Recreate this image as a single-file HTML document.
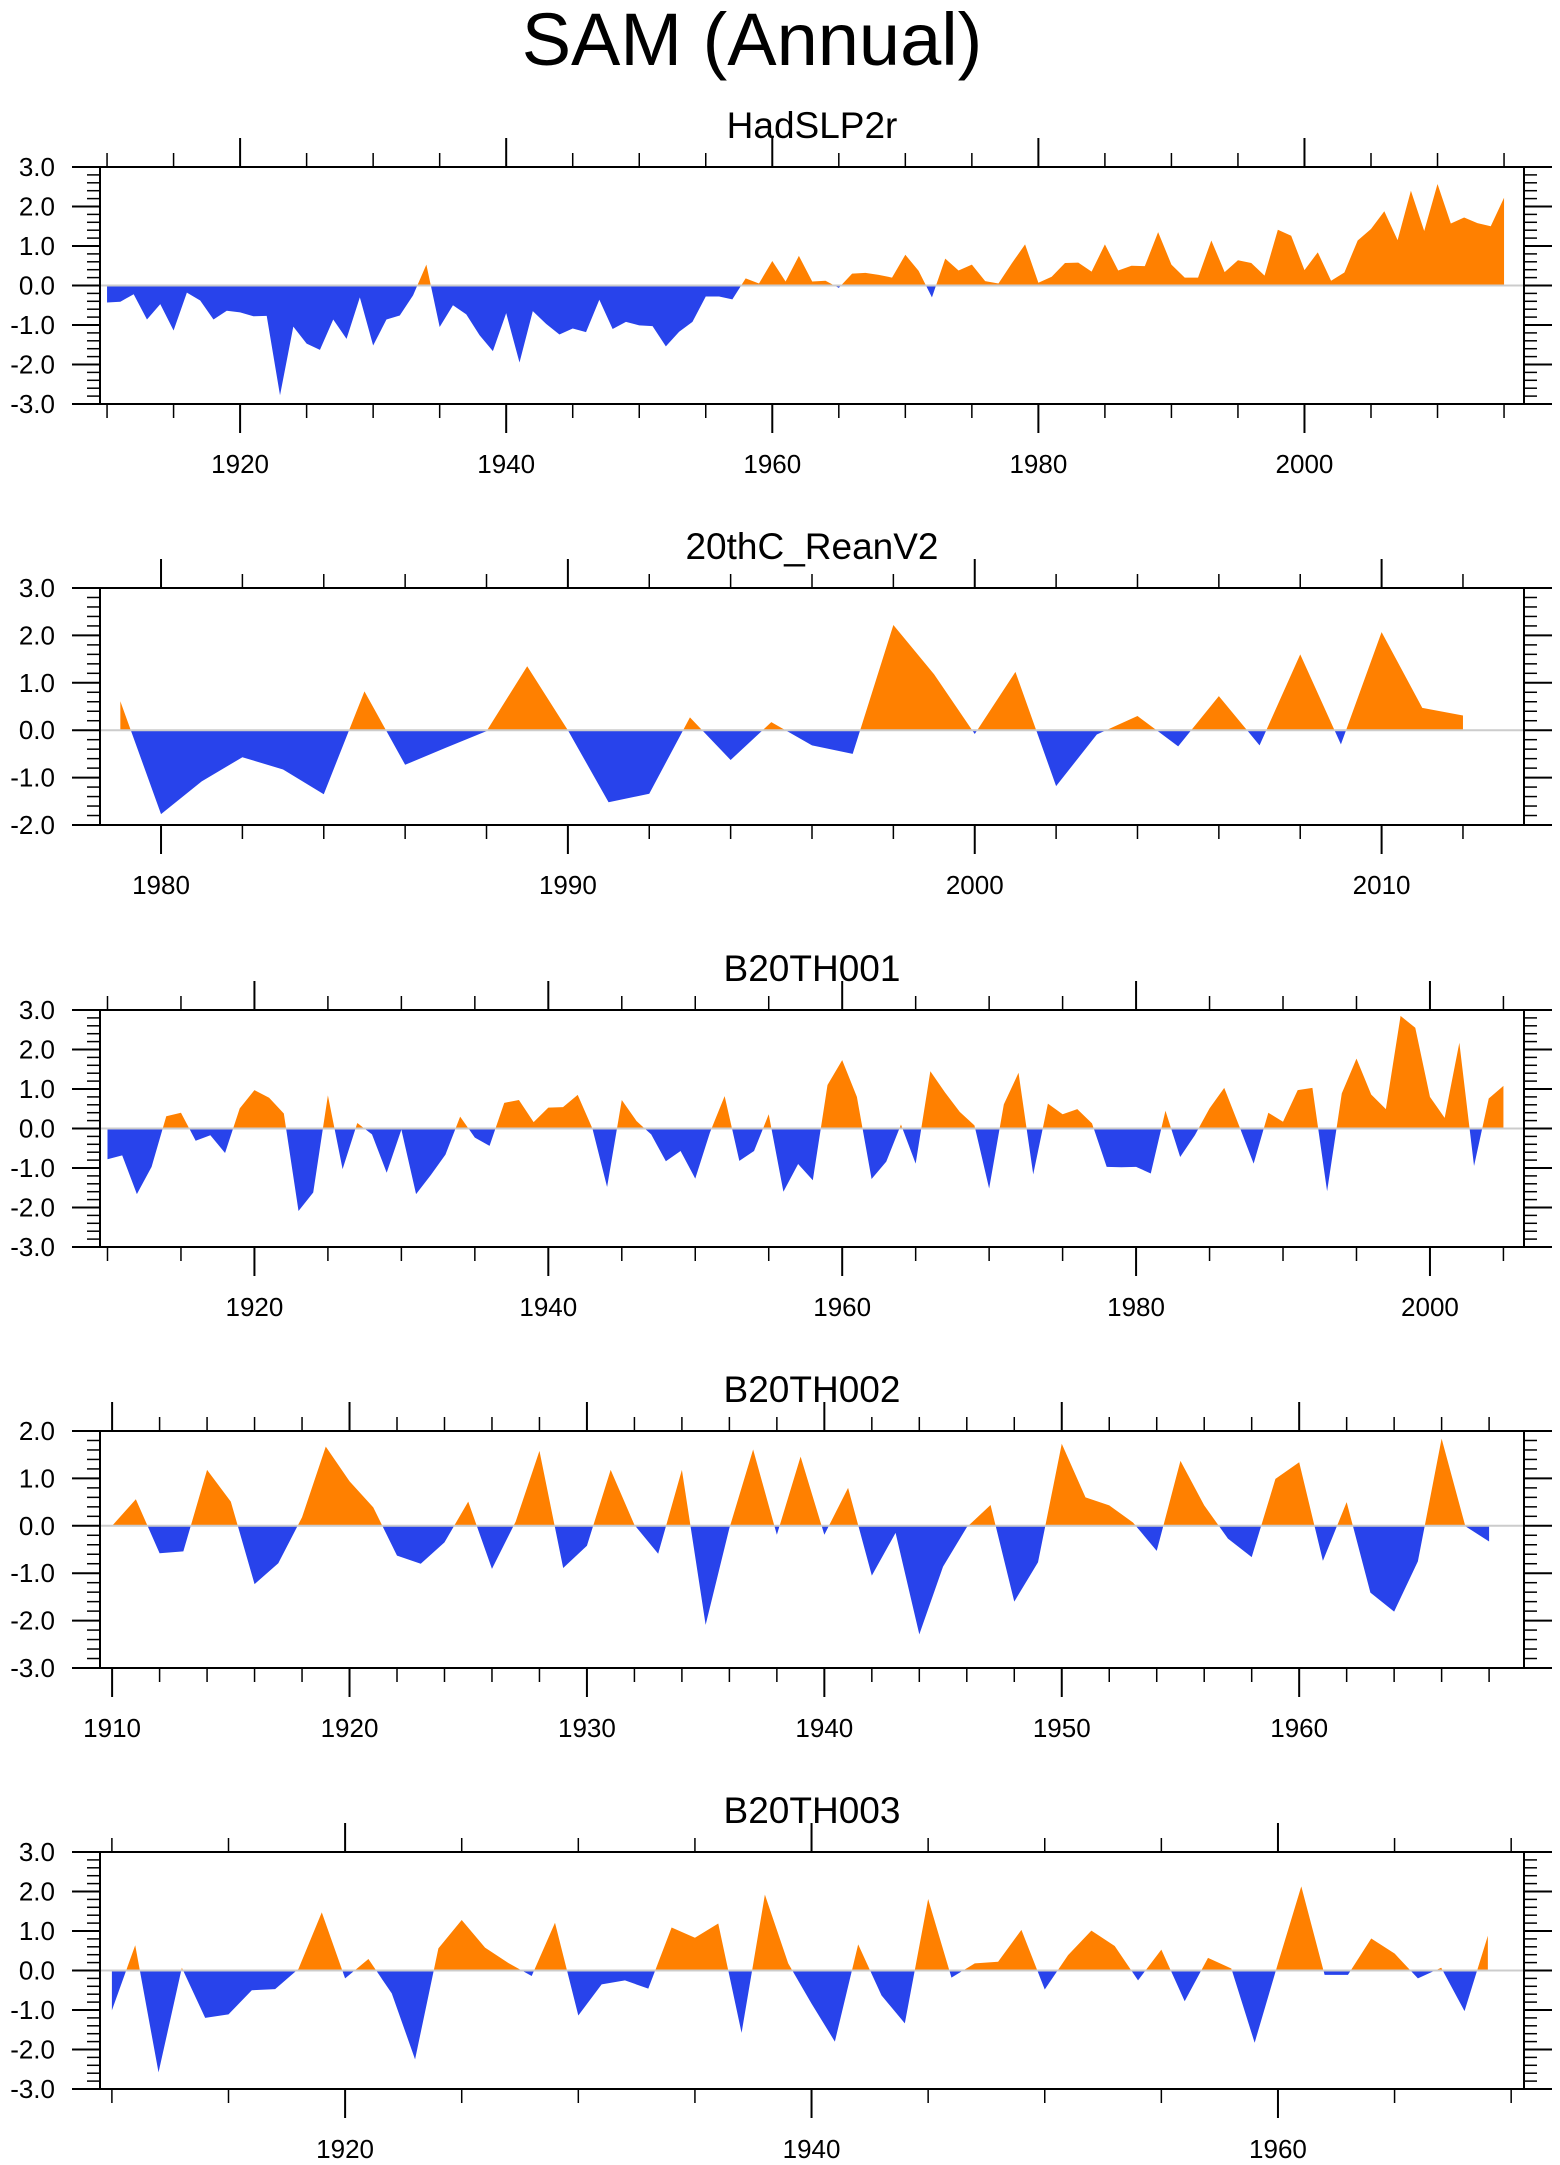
<!DOCTYPE html>
<html><head><meta charset="utf-8"><style>
html,body{margin:0;padding:0;background:#fff;}
svg{display:block;font-family:"Liberation Sans",Arial,sans-serif;}
</style></head><body>
<svg id="chart" width="1560" height="2165" viewBox="0 0 1560 2165" xmlns="http://www.w3.org/2000/svg">
<text x="752" y="65" font-size="74" text-anchor="middle" fill="#000">SAM (Annual)</text>
</svg>
<script>
// ---- data ----
const hadStart = 1910;
const hadValues = [-0.43,-0.41,-0.22,-0.86,-0.47,-1.14,-0.18,-0.38,-0.86,-0.64,
-0.68,-0.78,-0.77,-2.78,-1.04,-1.47,-1.63,-0.86,-1.35,-0.30,
-1.52,-0.86,-0.76,-0.25,0.53,-1.05,-0.50,-0.73,-1.26,-1.66,
-0.70,-1.95,-0.65,-0.97,-1.24,-1.09,-1.18,-0.36,-1.10,-0.92,
-1.01,-1.03,-1.54,-1.17,-0.92,-0.28,-0.28,-0.35,0.18,0.05,
0.62,0.10,0.75,0.10,0.12,-0.06,0.30,0.32,0.27,0.20,
0.78,0.37,-0.30,0.68,0.38,0.53,0.11,0.05,0.56,1.04,
0.07,0.22,0.57,0.58,0.35,1.04,0.38,0.50,0.49,1.35,
0.53,0.20,0.20,1.14,0.34,0.64,0.57,0.25,1.41,1.26,
0.39,0.84,0.12,0.33,1.14,1.43,1.88,1.15,2.40,1.38,
2.57,1.57,1.72,1.58,1.50,2.22];
const reanStart = 1979;
const reanValues = [0.61,-1.77,-1.08,-0.57,-0.83,-1.35,0.82,-0.73,-0.37,-0.02,
1.35,0.0,-1.52,-1.34,0.27,-0.63,0.17,-0.32,-0.50,2.22,
1.18,-0.08,1.23,-1.18,-0.09,0.30,-0.34,0.72,-0.32,1.60,
-0.30,2.07,0.47,0.31];
const b001Start = 1910;
const b001Values = [-0.78,-0.68,-1.66,-0.97,0.31,0.40,-0.31,-0.17,-0.62,0.51,
0.97,0.78,0.38,-2.09,-1.62,0.84,-1.03,0.14,-0.15,-1.12,
-0.03,-1.66,-1.18,-0.66,0.30,-0.23,-0.44,0.65,0.72,0.16,
0.53,0.54,0.85,0.0,-1.48,0.72,0.19,-0.15,-0.83,-0.57,
-1.27,-0.10,0.82,-0.82,-0.57,0.36,-1.60,-0.90,-1.31,1.10,
1.73,0.80,-1.28,-0.84,0.10,-0.89,1.45,0.91,0.42,0.08,
-1.52,0.61,1.41,-1.16,0.63,0.36,0.49,0.13,-0.97,-0.98,
-0.97,-1.14,0.45,-0.72,-0.17,0.51,1.03,0.08,-0.89,0.40,
0.17,0.97,1.03,-1.59,0.89,1.77,0.86,0.49,2.85,2.55,
0.80,0.27,2.17,-0.95,0.76,1.08];
const b002Start = 1910;
const b002Values = [0.0,0.56,-0.58,-0.54,1.18,0.51,-1.23,-0.79,0.18,1.67,
0.94,0.39,-0.63,-0.80,-0.35,0.51,-0.91,0.09,1.58,-0.89,
-0.42,1.18,0.02,-0.59,1.18,-2.09,-0.05,1.61,-0.19,1.46,
-0.19,0.80,-1.05,-0.15,-2.29,-0.86,-0.03,0.44,-1.60,-0.77,
1.73,0.60,0.43,0.07,-0.53,1.37,0.43,-0.27,-0.66,0.99,
1.34,-0.74,0.50,-1.41,-1.81,-0.75,1.84,-0.01,-0.33];
const b003Start = 1910;
const b003Values = [-1.01,0.64,-2.58,0.07,-1.20,-1.11,-0.50,-0.47,0.04,1.47,
-0.20,0.29,-0.58,-2.25,0.56,1.28,0.58,0.19,-0.14,1.21,
-1.14,-0.35,-0.25,-0.46,1.09,0.83,1.19,-1.58,1.92,0.18,
-0.84,-1.80,0.66,-0.63,-1.34,1.81,-0.18,0.18,0.22,1.03,
-0.48,0.39,1.01,0.62,-0.25,0.53,-0.78,0.32,0.05,-1.83,
0.18,2.13,-0.11,-0.11,0.81,0.43,-0.20,0.07,-1.03,0.88];
const panelTitles = ["HadSLP2r","20thC_ReanV2","B20TH001","B20TH002","B20TH003"];
const yMaxes = [3,3,3,2,3];
const yMins = [-3,-2,-3,-3,-3];
const xMinYears = [1909.47,1978.5,1909.49,1909.49,1909.49];
const xMaxYears = [2016.5,2013.5,2006.4,1969.47,1970.55];
const xMajorStep = [20,10,20,10,20];
const xMinorStep = [5,2,5,2,5];

// ---- layout ----
const NS="http://www.w3.org/2000/svg";
const svg=document.getElementById('chart');
const L=100,R=1524,H=237;
const tops=[167,588,1010,1431,1852];
const series=[[hadStart,hadValues],[reanStart,reanValues],[b001Start,b001Values],[b002Start,b002Values],[b003Start,b003Values]];
const ORANGE="#ff8000",BLUE="#2843eb";
function mk(tag,attrs,parent){const e=document.createElementNS(NS,tag);for(const k in attrs)e.setAttribute(k,attrs[k]);(parent||svg).appendChild(e);return e;}
function fmt(v){return v.toFixed(1);}

for(let p=0;p<5;p++){
  const top=tops[p],bot=top+H;
  const x0=xMinYears[p],x1=xMaxYears[p],y0=yMins[p],y1=yMaxes[p];
  const xs=yr=>L+(yr-x0)*(R-L)/(x1-x0);
  const ys=v=>bot-(v-y0)*H/(y1-y0);
  const g=mk('g',{});
  
  
  const t=mk('text',{x:(L+R)/2,y:top-29,'font-size':37,'text-anchor':'middle',fill:'#000'},g);
  
  
  t.textContent=panelTitles[p];
  const cid='c'+p;
  const defs=mk('defs',{},g);
  const cpA=mk('clipPath',{id:cid+'a'},defs);
  mk('rect',{x:L,y:top,width:R-L,height:ys(0)-top},cpA);
  const cpB=mk('clipPath',{id:cid+'b'},defs);
  mk('rect',{x:L,y:ys(0),width:R-L,height:bot-ys(0)},cpB);
  const [start,vals]=series[p];
  let pts=[];
  pts.push(xs(start)+','+ys(0));
  vals.forEach((v,i)=>pts.push(xs(start+i)+','+ys(v)));
  pts.push(xs(start+vals.length-1)+','+ys(0));
  const pos=mk('polygon',{points:pts.join(' '),fill:ORANGE,'clip-path':'url(#'+cid+'a)'},g);
  
  
  const neg=mk('polygon',{points:pts.join(' '),fill:BLUE,'clip-path':'url(#'+cid+'b)'},g);
  
  
  const zl=mk('line',{x1:L,x2:R,y1:ys(0),y2:ys(0),stroke:'#cccccc','stroke-width':2},g);
  
  
  const nMinor=Math.round((y1-y0)/0.2);
  for(let k=0;k<=nMinor;k++){
    const v=y0+k*0.2,y=ys(v);
    const major=(k%5===0);
    const len=major?28:13;
    mk('line',{x1:L-len,x2:L,y1:y,y2:y,stroke:'#000','stroke-width':major?2:1.5},g);
    mk('line',{x1:R,x2:R+len,y1:y,y2:y,stroke:'#000','stroke-width':major?2:1.5},g);
    if(major){
      const lb=mk('text',{x:55,y:y+9,'font-size':26,'text-anchor':'end',fill:'#000'},g);
      
      
      lb.textContent=fmt(v);
    }
  }
  const ms=xMinorStep[p];
  for(let yr=Math.ceil(x0/ms)*ms;yr<=x1;yr+=ms){
    const x=xs(yr);
    const major=(yr%xMajorStep[p]===0);
    const len=major?29:14;
    mk('line',{x1:x,x2:x,y1:top-len,y2:top,stroke:'#000','stroke-width':major?2:1.5},g);
    mk('line',{x1:x,x2:x,y1:bot,y2:bot+len,stroke:'#000','stroke-width':major?2:1.5},g);
    if(major){
      const lb=mk('text',{x:x,y:bot+69,'font-size':26,'text-anchor':'middle',fill:'#000'},g);
      
      
      lb.textContent=String(yr);
    }
  }
  const fr=mk('rect',{x:L,y:top,width:R-L,height:H,fill:'none',stroke:'#000','stroke-width':2},g);
  
  
}
</script>
</body></html>
